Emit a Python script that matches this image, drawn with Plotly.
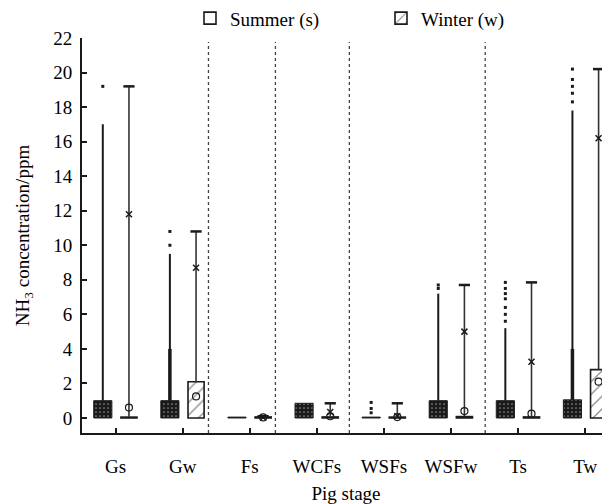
import plotly.graph_objects as go

# ---------------- data ----------------
categories = ["Gs", "Gw", "Fs", "WCFs", "WSFs", "WSFw", "Ts", "Tw"]
season = ["s", "w", "s", "s", "s", "w", "s", "w"]

# raw-point cloud: dense block top, dense column, solid column top
cloud_top = [1.0, 1.0, 0.05, 0.85, 0.05, 1.0, 1.0, 1.05]
column_dense_top = [None, 4.0, None, None, None, None, None, 4.0]
column_top = [17.0, 9.5, None, None, None, 7.2, 5.2, 17.8]
sparse_points = {
    "Gs": [19.2],
    "Gw": [10.0, 10.8],
    "WSFs": [0.3, 0.55, 0.9],
    "WSFw": [7.5, 7.7],
    "Ts": [5.6, 6.0, 6.4, 6.9, 7.2, 7.5, 7.85],
    "Tw": [18.3, 18.8, 19.2, 19.6, 20.2],
}

# box statistics
box_q1 = [0, 0, 0, 0, 0, 0, 0, 0]
box_q3 = [0.05, 2.1, 0.06, 0.06, 0.05, 0.08, 0.06, 2.8]
whisker_max = [19.2, 10.8, 0.1, 0.85, 0.85, 7.7, 7.85, 20.2]
mean_val = [11.8, 8.7, 0.03, 0.35, 0.1, 5.0, 3.25, 16.2]
median_val = [0.6, 1.25, 0.03, 0.1, 0.05, 0.4, 0.25, 2.1]

separators = [1.385, 2.383, 3.485, 5.51]
y_ticks = list(range(0, 23, 2))

# ---------------- layout constants ----------------
CLOUD_OFF = -0.19
BOX_OFF = 0.2
CLOUD_W = 0.27
BOX_W = 0.24
FONT = "Liberation Serif"
INK = "#1a1a1a"

idx = list(range(len(categories)))
fig = go.Figure()

# cloud blocks
fig.add_trace(go.Bar(
    x=[i + CLOUD_OFF for i in idx], y=cloud_top, base=0, width=CLOUD_W,
    marker=dict(color=INK, line=dict(color=INK, width=1),
                pattern=dict(shape=".", fgcolor="white", bgcolor=INK, size=4, solidity=0.15)),
    showlegend=False, hoverinfo="skip"))

# columns of points
cx, cy = [], []
for i in idx:
    if column_top[i] is not None:
        cx += [i + CLOUD_OFF, i + CLOUD_OFF, None]
        cy += [cloud_top[i], column_top[i], None]
fig.add_trace(go.Scatter(x=cx, y=cy, mode="lines", line=dict(color=INK, width=2),
                         showlegend=False, hoverinfo="skip"))
dx, dy = [], []
for i in idx:
    if column_dense_top[i] is not None:
        dx += [i + CLOUD_OFF, i + CLOUD_OFF, None]
        dy += [cloud_top[i], column_dense_top[i], None]
fig.add_trace(go.Scatter(x=dx, y=dy, mode="lines", line=dict(color=INK, width=3.5),
                         showlegend=False, hoverinfo="skip"))
sx, sy = [], []
for i in idx:
    for v in sparse_points.get(categories[i], []):
        sx.append(i + CLOUD_OFF)
        sy.append(v)
fig.add_trace(go.Scatter(x=sx, y=sy, mode="markers",
                         marker=dict(color=INK, size=3, symbol="square"),
                         showlegend=False, hoverinfo="skip"))

# whiskers
wx, wy = [], []
for i in idx:
    wx += [i + BOX_OFF, i + BOX_OFF, None]
    wy += [box_q3[i], whisker_max[i], None]
fig.add_trace(go.Scatter(x=wx, y=wy, mode="lines", line=dict(color="#333", width=1.6),
                         showlegend=False, hoverinfo="skip"))
fig.add_trace(go.Scatter(x=[i + BOX_OFF for i in idx], y=whisker_max, mode="markers",
                         marker=dict(symbol="line-ew", size=8, line=dict(color=INK, width=2.5)),
                         showlegend=False, hoverinfo="skip"))

# boxes (summer plain, winter hatched)
for s, name, pat in [("s", "Summer (s)", ""), ("w", "Winter (w)", "/")]:
    sel = [i for i in idx if season[i] == s]
    fig.add_trace(go.Bar(
        x=[i + BOX_OFF for i in sel],
        y=[box_q3[i] - box_q1[i] for i in sel],
        base=[box_q1[i] for i in sel], width=BOX_W, name=name,
        marker=dict(color="white", line=dict(color=INK, width=1.6),
                    pattern=dict(shape=pat, fgcolor=INK, bgcolor="white", size=9, solidity=0.15)),
        hoverinfo="skip"))

# mean (x) and median (o)
fig.add_trace(go.Scatter(x=[i + BOX_OFF for i in idx], y=mean_val, mode="markers",
                         marker=dict(symbol="x-thin", size=6, line=dict(color=INK, width=1.5)),
                         showlegend=False, hoverinfo="skip"))
fig.add_trace(go.Scatter(x=[i + BOX_OFF for i in idx], y=median_val, mode="markers",
                         marker=dict(symbol="circle-open", size=7, color=INK, line=dict(width=1.2)),
                         showlegend=False, hoverinfo="skip"))

for xs in separators:
    fig.add_shape(type="line", x0=xs, x1=xs, xref="x", yref="paper", y0=0, y1=0.99,
                  line=dict(color="#444", width=1.3, dash="dot"), layer="below")

# the page body adds an 8px offset; the figure is sized to fit the window
fig.update_layout(
    width=602, height=496,
    margin=dict(l=74, r=0, t=30, b=71, autoexpand=False),
    paper_bgcolor="white", plot_bgcolor="white",
    barmode="overlay",
    font=dict(family=FONT, size=19, color="black"),
    legend=dict(orientation="h", x=108 / 528, xanchor="left", y=1.05, yanchor="middle",
                font=dict(family=FONT, size=19), entrywidth=146, itemwidth=30),
    xaxis=dict(range=[-0.5, 7.37], tickmode="array", tickvals=idx, ticktext=categories,
               ticks="inside", ticklen=5, tickwidth=1.5, tickcolor=INK,
               showline=True, linecolor=INK, linewidth=1.8, showgrid=False, zeroline=False,
               ticklabelstandoff=15, automargin=False,
               tickfont=dict(family=FONT, size=19),
               title=dict(text="Pig stage", standoff=26, font=dict(family=FONT, size=19))),
    yaxis=dict(range=[-0.87, 22], tickvals=y_ticks, ticks="inside", ticklen=5, tickwidth=1.5,
               tickcolor=INK, showline=True, linecolor=INK, linewidth=1.8, showgrid=False,
               zeroline=False, ticklabelstandoff=4, automargin=False,
               tickfont=dict(family=FONT, size=19),
               title=dict(text="NH<sub>3</sub> concentration/ppm", standoff=19,
                          font=dict(family=FONT, size=19))),
)

fig.write_html("out.html")
